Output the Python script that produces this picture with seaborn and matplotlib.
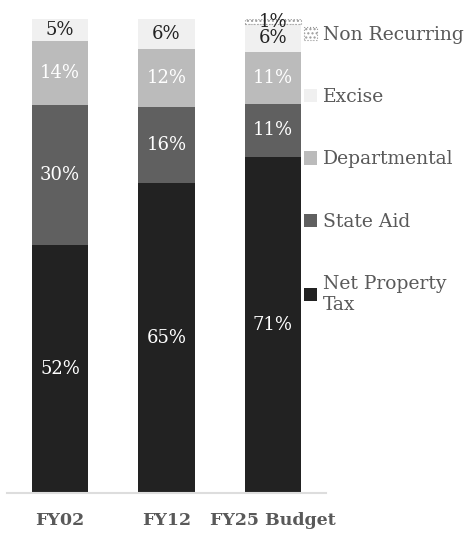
import numpy as np
import pandas as pd
import matplotlib
matplotlib.use("Agg")
import matplotlib.pyplot as plt
from matplotlib.patches import Patch
import seaborn as sns

# shares of revenue (%)
years = ['FY02', 'FY12', 'FY25 Budget']
sources = ['Net Property Tax', 'State Aid', 'Departmental', 'Excise', 'Non Recurring']
net_property_tax = [52.3, 65.4, 70.9]
state_aid = [29.6, 16.1, 11.2]
departmental = [13.5, 12.1, 11.0]
excise = [4.6, 6.4, 5.8]
non_recurring = [0.0, 0.0, 1.1]

colors = ['#222222', '#606060', '#bbbbbb', '#f0f0f0', '#ffffff']
label_colors = ['white', 'white', 'white', '#222222', '#222222']

series = [net_property_tax, state_aid, departmental, excise, non_recurring]

sns.set_style('white')
plt.rcParams['font.family'] = ['DejaVu Serif']

fig = plt.figure(figsize=(4.67, 5.33), dpi=100)
ax = fig.add_axes([7 / 467, 40 / 533, 319 / 467, 474 / 533])

bottom = np.zeros(len(years))
for name, vals, col, lcol in zip(sources, series, colors, label_colors):
    vals = np.array(vals)
    kw = dict(edgecolor='none', linewidth=0)
    if name == 'Non Recurring':
        kw = dict(edgecolor='#999999', hatch='....', linestyle=':', linewidth=0.8)
    df = pd.DataFrame({'year': years, 'share': vals})
    sns.barplot(data=df, x='year', y='share', order=years, bottom=bottom,
                color=col, saturation=1, width=0.53, ax=ax, **kw)
    # hide empty segments so they leave no dotted outline
    for p in ax.containers[-1]:
        if p.get_height() <= 0:
            p.set_visible(False)
    for i, v in enumerate(vals):
        if v > 0:
            ax.text(i, bottom[i] + v / 2, f'{v:.0f}%', ha='center', va='center',
                    color=lcol, fontsize=13)
    bottom += vals

ax.set_xlim(-0.5, 2.5)
ax.set_ylim(0, 100)
ax.set_xlabel('')
ax.set_ylabel('')
ax.set_yticks([])
for s in ['top', 'left', 'right']:
    ax.spines[s].set_visible(False)
ax.spines['bottom'].set_color('#dddddd')
ax.spines['bottom'].set_linewidth(1.5)
ax.tick_params(axis='x', length=0, pad=14, labelsize=12.5, labelcolor='#595959')
for t in ax.get_xticklabels():
    t.set_fontweight('bold')

handles = []
leg_labels = ['Non Recurring', 'Excise', 'Departmental', 'State Aid', 'Net Property\nTax']
for name, col in zip(reversed(sources), reversed(colors)):
    if name == 'Non Recurring':
        handles.append(Patch(facecolor=col, edgecolor='#999999', hatch='....',
                             linestyle=':', linewidth=0.8))
    else:
        handles.append(Patch(facecolor=col, edgecolor='none'))
leg = fig.legend(handles, leg_labels, loc='upper left', bbox_to_anchor=(304 / 467, 1 - 26 / 533),
                 frameon=False, fontsize=13.5, labelspacing=2.36, handlelength=0.7,
                 handleheight=0.7, handletextpad=0.3, borderaxespad=0, borderpad=0)
for t in leg.get_texts():
    t.set_color('#595959')

fig.savefig('out.png', dpi=100)
